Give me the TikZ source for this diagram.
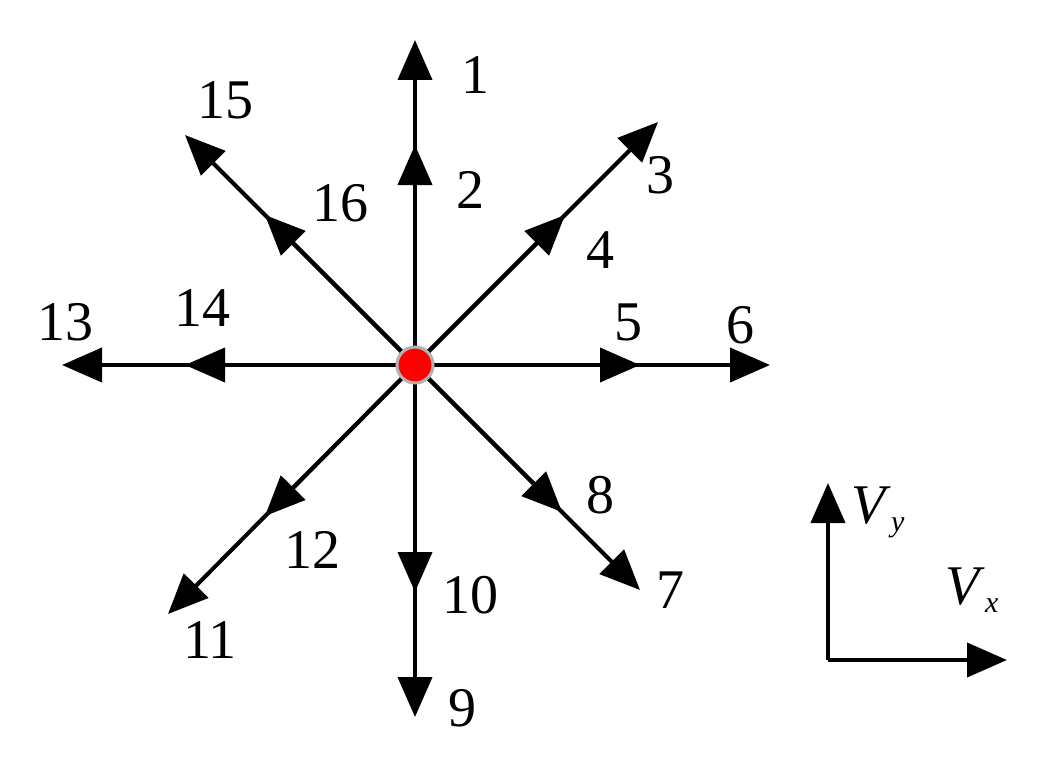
\documentclass[tikz,border=0pt]{standalone}
\usepackage{fontspec}
\setmainfont{Liberation Serif}
\usetikzlibrary{arrows.meta}
\begin{document}
\begin{tikzpicture}[x=1pt,y=-1pt,
  arr/.style={line width=4pt,-{Triangle[length=40pt,width=34pt]}},
  lab/.style={font=\fontsize{56}{60}\selectfont,inner sep=0pt}]
\useasboundingbox (0,0) rectangle (1041,757);
\node[circle,fill=red,draw=gray!60,line width=3pt,minimum size=36pt,inner sep=0pt] (c) at (415,365) {};
\foreach \n/\x/\y in {t1/415/40,t2/415/145,t3/658/122,t4/565/215,t5/640/365,t6/770/365,
  t7/640/590,t8/562/512,t9/415/717,t10/415/592,t11/168/614,t12/265/516,
  t13/62/365,t14/185/365,t15/185/135,t16/265/215}
  \coordinate (\n) at (\x,\y);
\foreach \n in {t1,t3,t6,t7,t9,t11,t13,t15} \draw[arr] (c.center) -- (\n);
\foreach \n in {t2,t4,t5,t8,t10,t12,t14,t16} \draw[arr] (c.center) -- (\n);
\node[circle,fill=red,draw=gray!60,line width=3pt,minimum size=36pt,inner sep=0pt] at (c) {};
\foreach \t/\x/\y in {1/475/75,2/470/190,3/660/175,4/600/250,5/628/322,6/740/325,
  7/670/590,8/600/495,9/462/708,10/470/595,11/210/640,12/312/550,13/65/322,
  14/202/308,15/225/100,16/340/203}
  \node[lab] (l\t) at (\x,\y) {\t};
\coordinate (o) at (828,660);
\coordinate (vy) at (828,483);
\coordinate (vx) at (1007,660);
\draw[arr] (o) -- (vy);
\draw[arr] (o) -- (vx);
\node[lab] (ly) at (878,512) {\textit{V}\raisebox{-8pt}{\fontsize{30}{32}\selectfont\textit{y}}};
\node[lab] (lx) at (972,590) {\textit{V}\raisebox{-8pt}{\fontsize{30}{32}\selectfont\textit{x}}};
\end{tikzpicture}
\end{document}
